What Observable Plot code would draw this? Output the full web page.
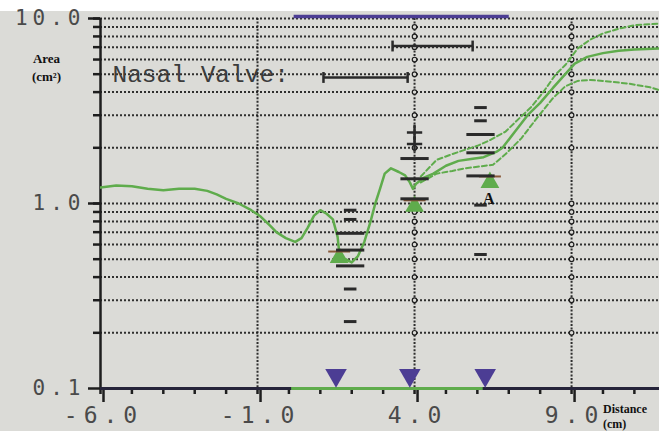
<!DOCTYPE html>
<html><head><meta charset="utf-8">
<script src="https://cdn.jsdelivr.net/npm/d3@7"></script>
<script src="https://cdn.jsdelivr.net/npm/@observablehq/plot@0.6"></script>
<style>
html,body{margin:0;padding:0;background:#dadad6;overflow:hidden}
g[aria-label="y-axis tick label"] text{letter-spacing:5px}
g[aria-label="x-axis tick label"] text{letter-spacing:6px}
</style>
</head><body><div id="chart"></div>
<script>
// ---- axes / ticks ----
const yTickLabels = [0.1, 1, 10];
const yGridValues = [0.2,0.3,0.4,0.5,0.6,0.7,0.8,0.9,1,2,3,4,5,6,7,8,9,10];
const xTickLabels = [-6, -1, 4, 9];
const xMinorTicks = [-6,-5,-4,-3,-2,-1,0,1,2,3,4,5,6,7,8,9,10,11];
const xGridValues = [-1, 4, 9];
const gridCircleX = [4, 9];

// ---- main area-distance curve (solid) ----
const curveX = [-6.0,-5.5,-5.0,-4.5,-4.0,-3.5,-3.0,-2.6,-2.3,-2.0,-1.6,-1.2,-0.9,-0.6,-0.4,-0.1,0.2,0.4,0.6,0.8,1.0,1.2,1.4,1.55,1.6,1.5,1.8,2.0,2.2,2.4,2.6,2.75,2.9,3.05,3.25,3.5,3.7,3.85,3.95,4.05,4.3,4.6,5.0,5.4,5.8,6.2,6.6,6.8,7.2,7.6,8.0,8.4,8.8,9.1,9.5,10.0,10.5,11.0,11.9];
const curveArea = [1.22,1.25,1.24,1.2,1.18,1.2,1.2,1.17,1.12,1.06,1.0,0.92,0.85,0.76,0.7,0.65,0.62,0.65,0.74,0.86,0.92,0.88,0.82,0.66,0.55,0.52,0.5,0.48,0.52,0.62,0.8,1.0,1.2,1.45,1.55,1.48,1.42,1.3,1.2,1.28,1.38,1.45,1.6,1.7,1.74,1.78,1.9,2.0,2.45,3.0,3.5,4.2,5.0,5.7,6.2,6.5,6.7,6.8,6.9];

// ---- upper and lower dashed curves ----
const upperX = [4.2,4.7,5.2,5.6,6.0,6.4,6.9,7.3,7.7,8.1,8.5,8.8,9.2,9.6,10.0,10.5,11.0,11.9];
const upperArea = [1.4,1.72,1.85,1.95,2.05,2.2,2.45,2.85,3.3,4.0,5.0,5.6,6.9,7.7,8.3,8.8,9.2,9.4];
const lowerX = [4.2,4.7,5.2,5.6,6.0,6.5,6.9,7.4,7.9,8.4,8.8,9.2,9.6,10.0,10.8,11.5,11.9];
const lowerArea = [1.3,1.45,1.5,1.55,1.58,1.62,1.85,2.25,2.9,3.7,4.3,4.6,4.65,4.6,4.45,4.25,4.05];

// ---- marker columns (black dashes) ----
const dashColumnX = [1.95, 4.0, 6.1];
const dashLong = [[0.69,0.56,0.46],[1.75,1.36,1.06],[2.36,1.88,1.41]];
const dashShort = [[0.92,0.82,0.345,0.23],[],[3.3,2.8,0.98,0.53]];
const plusColumnX = 4.0;
const plusArea = [2.42, 2.1];

// ---- nasal valve markers ----
const valveX = [1.5, 3.85, 6.25];
const valveArea = 0.118;
const minimaX = [1.6, 4.0, 6.4];
const minimaArea = [0.55, 1.04, 1.4];

// ---- range bars ----
const rangeStart = [1.1, 3.3];
const rangeEnd = [3.78, 5.85];
const rangeArea = [4.8, 7.1];

// ---- top / bottom coloured segments ----
const xDomain = [-6, 11.8];
const topSpan = [0.15, 7.0];
const axisGreenSpan = [0.07, 6.17];

const curve = curveX.map((x,i)=>({x, y: curveArea[i]}));
const upper = upperX.map((x,i)=>({x, y: upperArea[i]}));
const lower = lowerX.map((x,i)=>({x, y: lowerArea[i]}));
const longD = dashColumnX.flatMap((x,i)=>dashLong[i].map(y=>({x,y})));
const shortD = dashColumnX.flatMap((x,i)=>dashShort[i].map(y=>({x,y})));
const ranges = rangeStart.map((s,i)=>({s, e: rangeEnd[i], y: rangeArea[i]}));
const minima = minimaX.map((x,i)=>({x, y: minimaArea[i]}));
const circles = gridCircleX.flatMap(x=>yGridValues.filter(v=>v<10).map(y=>({x,y})));

const green = "#5fac4c";
const purple = "#4c3d94";
const ink = "#1e1e1e";
const dotted = {stroke:"#1c1c1c", strokeOpacity:0.9, strokeWidth:2, strokeDasharray:"2,2"};

const chart = Plot.plot({
  width: 659, height: 431,
  marginLeft: 100, marginRight: 0, marginTop: 18, marginBottom: 43,
  style: {background: "linear-gradient(#ffffff 0 11px, #dbdbd7 11px)", overflow: "visible"},
  x: {domain: xDomain},
  y: {type: "log", domain: [0.1, 10]},
  marks: [
    Plot.gridY(yGridValues, dotted),
    Plot.gridX(xGridValues, {...dotted, strokeDasharray:"2,1.6"}),
    Plot.dot(circles, {x:"x", y:"y", r:2.3, stroke:ink, strokeWidth:1.2, fill:"#dbdbd7"}),
    Plot.axisY(yGridValues, {tickSize: 7, tickFormat: d => " ", label: null, stroke: ink, strokeWidth: 2.5, strokeOpacity: 1}),
    Plot.axisX(xMinorTicks, {tickSize: 6, tickFormat: d => " ", label: null, stroke: ink, strokeWidth: 2.5, strokeOpacity: 1}),
    Plot.axisY(yTickLabels, {tickSize: 12, tickPadding: 3, tickFormat: d => d.toFixed(1), label: null,
      fontSize: 21, fontFamily: "DejaVu Sans Mono", fill: "#4a4a4a", stroke: ink, strokeWidth: 2.5}),
    Plot.axisX(xTickLabels, {tickSize: 14, tickPadding: 4, tickFormat: d => d.toFixed(1), label: null,
      fontSize: 23, fontFamily: "DejaVu Sans Mono", fill: "#4a4a4a", stroke: ink, strokeWidth: 2.5, dx: 3}),
    Plot.ruleX([-6], {y1: 0.1, y2: 10, stroke: ink, strokeWidth: 2.5}),
    Plot.ruleY([0.1], {x1: xDomain[0], x2: xDomain[1], stroke: "#26243a", strokeWidth: 3, strokeOpacity: 1}),
    Plot.link([axisGreenSpan], {x1: d => d[0], x2: d => d[1], y1: 0.1, y2: 0.1, stroke: green, strokeWidth: 3}),
    Plot.link([topSpan], {x1: d => d[0], x2: d => d[1], y1: 10, y2: 10, dy: -2, stroke: purple, strokeWidth: 3.5}),
    // range bars
    Plot.link(ranges, {x1: "s", x2: "e", y1: "y", y2: "y", stroke: "#2a2a2a", strokeWidth: 2.5}),
    Plot.link(ranges, {x1: "s", x2: "s", y1: d => d.y/1.07, y2: d => d.y*1.07, stroke: "#2a2a2a", strokeWidth: 2.5}),
    Plot.link(ranges, {x1: "e", x2: "e", y1: d => d.y/1.07, y2: d => d.y*1.07, stroke: "#2a2a2a", strokeWidth: 2.5}),
    // text
    Plot.text(["Nasal Valve:"], {x: -5.62, y: 5.0, text: d => d, textAnchor: "start", fontSize: 24.5,
      fontFamily: "Liberation Mono", fill: "#3c3c3c"}),
    Plot.text(["Area\n(cm²)"], {x: -6, y: 5.5, dx: -54, text: d => d, fontSize: 13, fontWeight: "bold",
      fontFamily: "Liberation Serif", fill: "#111", lineHeight: 1.35}),
    Plot.text(["Distance\n(cm)"], {x: 10.0, y: 0.1, dy: 27, text: d => d, textAnchor: "start", fontSize: 12,
      fontWeight: "bold", fontFamily: "Liberation Serif", fill: "#111", lineHeight: 1.3}),
    Plot.text(["A"], {x: 6.36, y: 1.06, text: d => d, fontSize: 16, fontWeight: "bold",
      fontFamily: "Liberation Serif", fill: "#111"}),
    // curves
    Plot.line(upper, {x: "x", y: "y", stroke: green, strokeWidth: 2, strokeDasharray: "5,3", clip: true}),
    Plot.line(lower, {x: "x", y: "y", stroke: green, strokeWidth: 2, strokeDasharray: "5,3", clip: true}),
    Plot.line(curve, {x: "x", y: "y", stroke: green, strokeWidth: 2.5, clip: true}),
    // minima markers
    Plot.dot(minima, {x: "x", y: "y", symbol: "triangle", r: 7, fill: green, dy: 6}),
    Plot.link(minima, {x1: d => d.x - 0.35, x2: d => d.x + 0.35, y1: "y", y2: "y", stroke: "#8a5a3a", strokeWidth: 2}),
    // dashes
    Plot.link(longD, {x1: d => d.x - 0.45, x2: d => d.x + 0.45, y1: "y", y2: "y", stroke: "#2a2a2a", strokeWidth: 3}),
    Plot.link(shortD, {x1: d => d.x - 0.2, x2: d => d.x + 0.2, y1: "y", y2: "y", stroke: "#2a2a2a", strokeWidth: 3}),
    Plot.dot(plusArea, {x: plusColumnX, y: d => d, symbol: "plus", r: 5, stroke: "#2a2a2a", strokeWidth: 2.5}),
    // valve triangles
    Plot.dot(valveX, {x: d => d, y: valveArea, symbol: "triangle", rotate: 180, r: 8, fill: purple})
  ]
});
document.getElementById("chart").appendChild(chart);
</script></body></html>
